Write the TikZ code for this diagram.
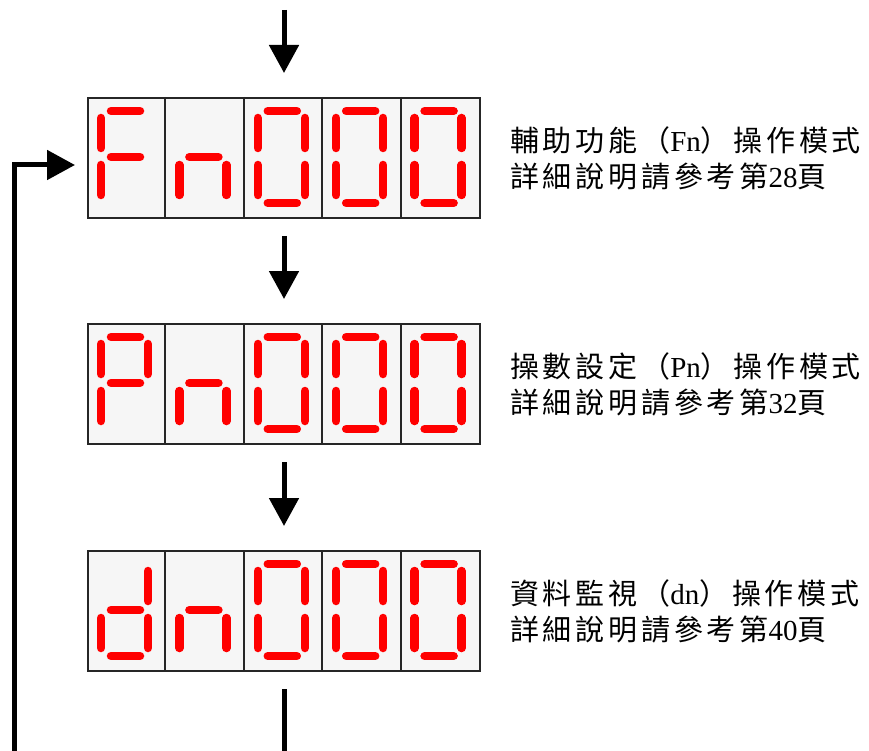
\documentclass[tikz,border=0pt]{standalone}
\usepackage{fontspec}
\setmainfont{Liberation Serif}
\newfontfamily\cjk{Noto Sans CJK TC}[LetterSpace=13]
\newcommand\zh[1]{{\cjk #1}}
\newcommand\lat[1]{{\fontsize{29}{36}\selectfont #1}}
\usetikzlibrary{arrows.meta, positioning}

\begin{document}
\begin{tikzpicture}[
    x=1pt, y=-1pt,
    panel/.style={
        draw=black!85,
        line width=2pt,
        fill=gray!7,
        minimum width=392pt,
        minimum height=120pt,
        inner sep=0pt
    },
    divider/.style={draw=black!85, line width=2pt},
    seg/.style={draw=red, line width=8.5pt, line cap=round},
    note/.style={
        font=\fontsize{29}{36}\selectfont,
        align=left,
        inner sep=0pt
    },
    flow/.style={line width=5pt, -{Triangle[length=28pt, width=29pt]}},
    link/.style={line width=5pt},
    % seven segments of one digit cell (origin = top left corner)
    seg a/.pic={\draw[seg] (24,14) -- (53,14);},
    seg b/.pic={\draw[seg] (61,21) -- (61,51);},
    seg c/.pic={\draw[seg] (61,68) -- (61,98);},
    seg d/.pic={\draw[seg] (24,106) -- (53,106);},
    seg e/.pic={\draw[seg] (14,68) -- (14,98);},
    seg f/.pic={\draw[seg] (14,21) -- (14,51);},
    seg g/.pic={\draw[seg] (24,60) -- (53,60);}
]
    \useasboundingbox (0,0) rectangle (869,751);

    \node[panel] (fn) at (284,158) {};
    \node[panel, below=104pt of fn] (pn) {};
    \node[panel, below=105pt of pn] (dn) {};

    % cell dividers
    \foreach \p in {fn,pn,dn}
        \foreach \k in {1,...,4}
            \draw[divider] ([xshift={\k*78.4pt}]\p.north west) -- ([xshift={\k*78.4pt}]\p.south west);

    % digits
    \foreach \p/\first/\second in {fn/{a,e,f,g}/{c,e,g}, pn/{a,b,e,f,g}/{c,e,g}, dn/{b,c,d,e,g}/{c,e,g}} {
        \foreach \s in \first
            \pic at (\p.north west) {seg \s};
        \foreach \s in \second
            \pic at ([xshift=78.4pt]\p.north west) {seg \s};
        \foreach \k in {2,3,4}
            \foreach \s in {a,b,c,d,e,f}
                \pic at ([xshift={\k*78.4pt}]\p.north west) {seg \s};
    }

    \node[note, right=29pt of fn] (fnnote) {\zh{輔助功能（}\lat{Fn}\zh{）操作模式}\\\zh{詳細說明請參考第}\lat{28}\zh{頁}};
    \node[note, right=29pt of pn] (pnnote) {\zh{操數設定（}\lat{Pn}\zh{）操作模式}\\\zh{詳細說明請參考第}\lat{32}\zh{頁}};
    \node[note, right=29pt of dn] (dnnote) {\zh{資料監視（}\lat{dn}\zh{）操作模式}\\\zh{詳細說明請參考第}\lat{40}\zh{頁}};

    \coordinate (entry) at (284,10);
    \coordinate (exit) at (284,751);
    \coordinate (back) at (14,751);

    \draw[flow, shorten >=24pt] (entry) -- (fn);
    \draw[flow, shorten <=17pt, shorten >=24pt] (fn) -- (pn);
    \draw[flow, shorten <=17pt, shorten >=24pt] (pn) -- (dn);
    \draw[link, shorten <=17pt] (dn) -- (exit);
    \draw[flow, shorten >=12pt] (back) |- ([yshift=-7pt]fn.west);
\end{tikzpicture}
\end{document}
